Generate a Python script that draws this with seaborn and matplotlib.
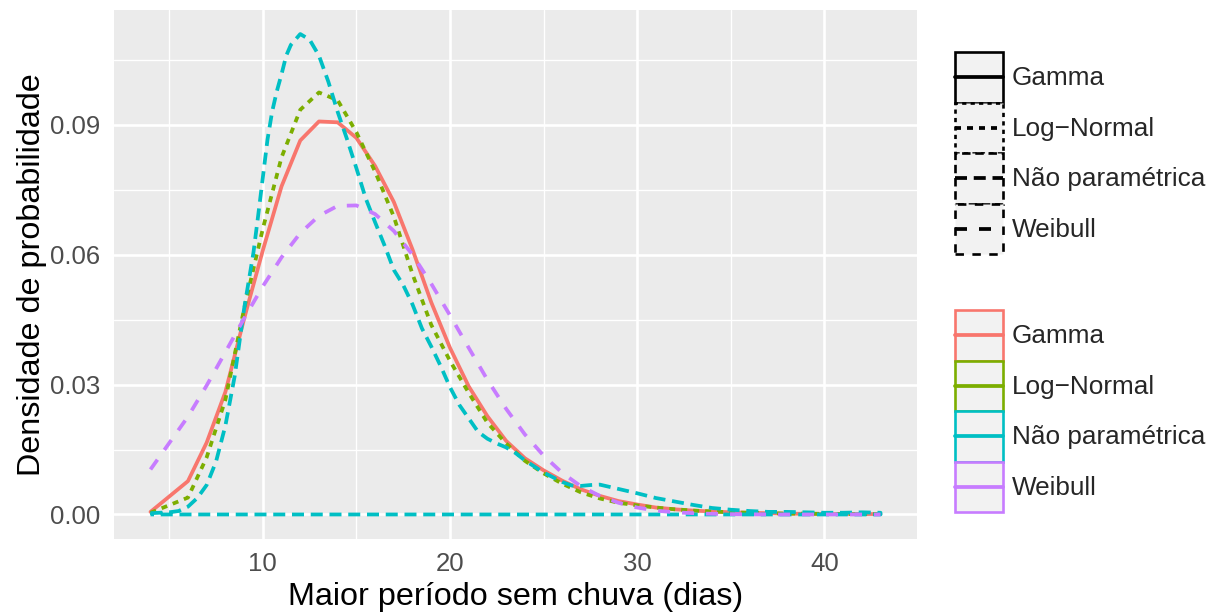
import numpy as np
import pandas as pd
import matplotlib
matplotlib.use("Agg")
import matplotlib.pyplot as plt
import seaborn as sns
from matplotlib.patches import Patch
from matplotlib.lines import Line2D
from matplotlib.legend_handler import HandlerTuple, HandlerLine2D

# ---------------- data ----------------
dist_names = ["Gamma", "Log\u2212Normal", "N\u00e3o param\u00e9trica", "Weibull"]

days = [4, 6, 7, 8, 9, 10, 11, 12, 13, 14, 15, 16, 17, 18, 19, 20, 21, 22, 23,
        24, 25, 26, 27, 28, 29, 30, 31, 32, 33, 34, 35, 36, 37, 38, 39, 40, 41, 42, 43]

gamma_y = [0.0006, 0.0077, 0.0166, 0.0283, 0.0452, 0.0610, 0.0758, 0.0864, 0.0908, 0.0906,
           0.0870, 0.0805, 0.0722, 0.0612, 0.0490, 0.0385, 0.0296, 0.0227, 0.0170,
           0.0130, 0.0102, 0.0078, 0.0058, 0.0043, 0.0031, 0.0023, 0.0016, 0.0012, 0.0009,
           0.0007, 0.0005, 0.0004, 0.0003, 0.0002, 0.00015, 0.0001, 0.0001, 0.0001, 0.0001]

lognormal_y = [0.0004, 0.0039, 0.0132, 0.0265, 0.0475, 0.0660, 0.0825, 0.0935, 0.0975, 0.0957,
               0.0883, 0.0792, 0.0688, 0.0555, 0.0438, 0.0355, 0.0281, 0.0212, 0.0164,
               0.0124, 0.0095, 0.0071, 0.0051, 0.0037, 0.0027, 0.0021, 0.0016, 0.0012, 0.0009,
               0.0007, 0.0005, 0.0004, 0.0003, 0.0002, 0.0002, 0.00015, 0.0001, 0.0001, 0.0001]

weibull_y = [0.0104, 0.0226, 0.0298, 0.0375, 0.0453, 0.0527, 0.0594, 0.0650, 0.0690, 0.0713,
             0.0714, 0.0694, 0.0655, 0.0600, 0.0533, 0.0460, 0.0385, 0.0311, 0.0244,
             0.0185, 0.0136, 0.0096, 0.0065, 0.0043, 0.0027, 0.0016, 0.0009, 0.0005, 0.0003,
             0.00015, 0.00007, 0.00003, 0.00001, 0.0, 0.0, 0.0, 0.0, 0.0, 0.0]

# non-parametric (kernel density) curve
np_x = [4, 5, 5.5, 6, 6.5, 7, 7.5, 8, 8.5, 9, 9.5, 9.75, 10, 10.25, 10.5, 10.75, 11, 11.25,
        11.5, 12, 12.5, 13, 13.5,
        14, 14.5, 15, 15.5, 16, 16.5, 17, 17.5, 18, 18.5, 19, 19.5, 20, 20.5, 21, 21.5, 22,
        22.5, 23, 23.5, 24, 24.5, 25, 25.5, 26, 26.5, 27, 27.5, 28, 28.5, 29, 29.5, 30, 31,
        32, 33, 34, 35, 36, 37, 38, 39, 40, 41, 42, 43]
np_y = [0.0003, 0.0005, 0.0008, 0.0018, 0.0038, 0.0068, 0.0122, 0.0205, 0.0320, 0.0475,
        0.0605, 0.0690, 0.0778, 0.0866, 0.0931, 0.0978, 0.1017, 0.1060,
        0.1085, 0.1110, 0.1097, 0.1060, 0.1000,
        0.0930, 0.0867, 0.0800, 0.0730, 0.0675, 0.0622, 0.0565, 0.0530, 0.0485, 0.0430,
        0.0388, 0.0343, 0.0294, 0.0253, 0.0222, 0.0191, 0.0175,
        0.0164, 0.0155, 0.0142, 0.0125, 0.0111, 0.0097, 0.0086, 0.0075, 0.0067, 0.0066,
        0.0068, 0.0069, 0.0064, 0.0059, 0.0054, 0.0049, 0.0038,
        0.0030, 0.0022, 0.0015, 0.0011, 0.0008, 0.0006, 0.0006, 0.0005, 0.0004, 0.0004,
        0.0005, 0.0004]

x_ticks = [10, 20, 30, 40]
y_ticks = [0.00, 0.03, 0.06, 0.09]
x_title = "Maior per\u00edodo sem chuva (dias)"
y_title = "Densidade de probabilidade"

# ---------------- build long table ----------------
rows = []
for xv, yv in zip(days, gamma_y):
    rows.append((xv, yv, dist_names[0]))
for xv, yv in zip(days, lognormal_y):
    rows.append((xv, yv, dist_names[1]))
# density outline is a closed polygon (curve + baseline back to start)
for xv, yv in zip(np_x, np_y):
    rows.append((xv, yv, dist_names[2]))
for xv in [np_x[-1], np_x[0]]:
    rows.append((xv, 0.0, dist_names[2]))
for xv, yv in zip(days, weibull_y):
    rows.append((xv, yv, dist_names[3]))
df = pd.DataFrame(rows, columns=["x", "y", "dist"])

colors = ["#F8766D", "#7CAE00", "#00BFC4", "#C77CFF"]
palette = dict(zip(dist_names, colors))
dash_list = ["", (1.6, 1.6), (3.2, 1.8), (3.2, 3.2)]
dashes = dict(zip(dist_names, dash_list))

# ---------------- plot ----------------
sns.set_theme(style="darkgrid")
plt.rcParams["font.family"] = ["Liberation Sans", "DejaVu Sans"]

W, H = 1211, 614
fig = plt.figure(figsize=(W / 100, H / 100), dpi=100)
pl, pr, pt, pb = 114, 917, 10, 538.5
ax = fig.add_axes([pl / W, 1 - pb / H, (pr - pl) / W, (pb - pt) / H])
ax.set_facecolor("#EBEBEB")

LW = 2.7
sns.lineplot(data=df, x="x", y="y", hue="dist", style="dist", hue_order=dist_names,
             style_order=dist_names, palette=palette, dashes=dashes, sort=False,
             estimator=None, legend=False, linewidth=LW, ax=ax, zorder=3)

xmin, xmax = 4, 43
xr = xmax - xmin
ax.set_xlim(xmin - 0.05 * xr, xmax + 0.05 * xr)
ymax = max(np_y)
ax.set_ylim(-0.05 * ymax, ymax * 1.05)

ax.set_xticks(x_ticks)
ax.set_xticks([5, 15, 25, 35], minor=True)
ax.set_yticks(y_ticks)
ax.set_yticks([0.015, 0.045, 0.075, 0.105], minor=True)
ax.set_yticklabels([f"{v:.2f}" for v in y_ticks])
ax.grid(which="major", color="white", linewidth=1.9)
ax.grid(which="minor", color="white", linewidth=0.95)
ax.set_axisbelow(True)
for s in ax.spines.values():
    s.set_visible(False)
ax.tick_params(which="major", length=5.5, width=1.6, color="#333333",
               labelsize=18.5, labelcolor="#4D4D4D", pad=4.5)
ax.tick_params(which="minor", length=0)
ax.set_xlabel(x_title, fontsize=23.3, color="black", labelpad=4)
ax.set_ylabel(y_title, fontsize=23.3, color="black", labelpad=2)


# ---------------- legends ----------------
class CenteredLine(HandlerLine2D):
    """Legend line drawn through the vertical centre of the key box."""
    def create_artists(self, legend, orig_handle, xdescent, ydescent, width, height,
                       fontsize, trans):
        arts = super().create_artists(legend, orig_handle, xdescent, ydescent, width,
                                      height, fontsize, trans)
        yc = height / 2 - ydescent
        for a in arts:
            if isinstance(a, Line2D):
                a.set_ydata(np.full_like(np.asarray(a.get_xdata(), float), yc))
        return arts


leg_fs = 18.8
key_w_px, key_h_px = 48, 50.5
fs_px = leg_fs * 100 / 72
hh = (key_h_px / fs_px - 0.245) / 0.65
hmap = {tuple: HandlerTuple(ndivide=1, pad=0.0), Line2D: CenteredLine(marker_pad=0.12)}

lt_handles = []
for name, d in zip(dist_names, dash_list):
    ls = "-" if d == "" else (0, d)
    p = Patch(facecolor="#F2F2F2", edgecolor="black", linewidth=1.9, linestyle=ls)
    l = Line2D([], [], color="black", linewidth=LW, linestyle=ls)
    lt_handles.append((p, l))
col_handles = []
for name, c in zip(dist_names, colors):
    p = Patch(facecolor="#F2F2F2", edgecolor=c, linewidth=1.9)
    l = Line2D([], [], color=c, linewidth=LW)
    col_handles.append((p, l))

common = dict(frameon=False, fontsize=leg_fs, handlelength=key_w_px / fs_px,
              handleheight=hh, labelspacing=0.0, handletextpad=9 / fs_px,
              borderpad=0, borderaxespad=0, handler_map=hmap, loc="upper left")
leg1 = fig.legend(lt_handles, dist_names, bbox_to_anchor=(955 / W, 1 - 52 / H), **common)
leg2 = fig.legend(col_handles, dist_names, bbox_to_anchor=(955 / W, 1 - 310 / H), **common)

fig.savefig("out.png", dpi=100)
